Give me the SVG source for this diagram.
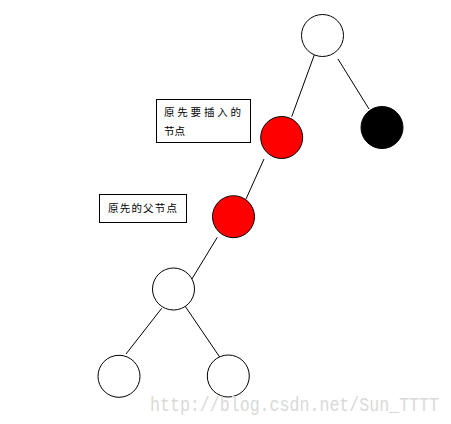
<svg xmlns="http://www.w3.org/2000/svg" width="451" height="424" viewBox="0 0 451 424">
<style>
.n{stroke:#000;stroke-width:1}
.w{fill:#fff}
.r{fill:#ff0000}
.b{fill:#000}
.e line{stroke:#000;stroke-width:1}
.box{fill:#fff;stroke:#000;stroke-width:1}
.t{font-family:"Noto Sans CJK SC",sans-serif;font-size:10.5px;fill:#000}
.wm{font-family:"Liberation Mono",monospace;font-size:19.5px;fill:#d9d9d9}
</style>
<rect width="451" height="424" fill="#fff"/>
<g class="e" id="connectors">
<line x1="315" y1="53" x2="291.7" y2="116.7"/>
<line x1="338" y1="59" x2="369" y2="109"/>
<line x1="264" y1="159" x2="246" y2="199"/>
<line x1="217.3" y1="237.3" x2="191.7" y2="279.3"/>
<line x1="161.7" y1="308.3" x2="126" y2="354"/>
<line x1="185" y1="306" x2="221.7" y2="360"/>
</g>
<g id="n1"><circle class="n w" cx="322.5" cy="35.5" r="21"/></g>
<g id="n2"><circle class="n b" cx="382" cy="127.5" r="21"/></g>
<g id="n3"><circle class="n r" cx="281.7" cy="137.5" r="21"/></g>
<g id="n4"><circle class="n r" cx="233.5" cy="216.7" r="21"/></g>
<g id="n5"><circle class="n w" cx="173.5" cy="289" r="21"/></g>
<g id="n6"><circle class="n w" cx="119" cy="376.3" r="21"/></g>
<g id="n7"><circle class="n w" cx="228.3" cy="376" r="21"/></g>
<g id="label1">
<rect class="box" x="156.5" y="99.5" width="94" height="43"/>
<text class="t" x="164" y="116" textLength="77" lengthAdjust="spacing">原先要插入的</text>
<text class="t" x="164" y="135">节点</text>
</g>
<g id="label2">
<rect class="box" x="99.5" y="194.5" width="87" height="28"/>
<text class="t" x="108" y="212" textLength="69" lengthAdjust="spacing">原先的父节点</text>
</g>
<text class="wm" x="150" y="411" textLength="289" lengthAdjust="spacingAndGlyphs">http://blog.csdn.net/Sun_TTTT</text>
</svg>
